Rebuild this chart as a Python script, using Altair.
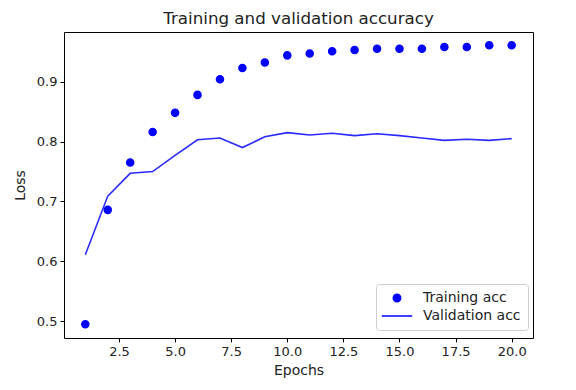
import altair as alt
import pandas as pd

epochs = list(range(1, 21))
train_acc = [0.495, 0.686, 0.765, 0.816, 0.848, 0.878, 0.904, 0.923, 0.932, 0.944,
             0.947, 0.951, 0.953, 0.955, 0.955, 0.955, 0.958, 0.958, 0.961, 0.961]
val_acc = [0.611, 0.709, 0.747, 0.750, 0.777, 0.803, 0.806, 0.790, 0.808, 0.815,
           0.811, 0.814, 0.810, 0.813, 0.810, 0.806, 0.802, 0.804, 0.802, 0.805]
series_names = ["Training acc", "Validation acc"]
x_ticks = [2.5, 5.0, 7.5, 10.0, 12.5, 15.0, 17.5, 20.0]
y_ticks = [0.5, 0.6, 0.7, 0.8, 0.9]

df = pd.DataFrame({
    "epoch": epochs * 2,
    "value": train_acc + val_acc,
    "series": [series_names[0]] * 20 + [series_names[1]] * 20,
})

FONT = "DejaVu Sans"
TXT = "#222222"
x = alt.X("epoch:Q", scale=alt.Scale(domain=[0.05, 20.95], nice=False, zero=False),
          axis=alt.Axis(values=x_ticks, format=".1f", title="Epochs"))
y = alt.Y("value:Q", scale=alt.Scale(domain=[0.472, 0.983], nice=False, zero=False),
          axis=alt.Axis(values=y_ticks, format=".1f", title="Loss"))

points = alt.Chart(df).transform_filter(
    alt.datum.series == series_names[0]
).mark_point(filled=True, color="#0000ff", stroke="#0000ff", strokeWidth=1.5,
             size=50, opacity=1).encode(
    x=x, y=y,
    shape=alt.Shape("series:N",
                    scale=alt.Scale(domain=series_names, range=["circle", "M-4.1,0L4.1,0"]),
                    legend=alt.Legend(title=None, orient="none", legendX=312, legendY=252)),
)

line = alt.Chart(df).transform_filter(
    alt.datum.series == series_names[1]
).mark_line(color="#2a2aff", strokeWidth=1.6).encode(x=x, y=y)

chart = alt.layer(points, line).properties(
    width=469, height=306,
    title=alt.TitleParams("Training and validation accuracy", fontSize=16.7, font=FONT,
                          fontWeight="normal", color=TXT, offset=4),
    autosize=alt.AutoSizeParams(type="none"),
    padding={"left": 56, "top": 24, "right": 20, "bottom": 40},
).configure_view(stroke="#000000", strokeWidth=1).configure_axis(
    grid=False, domain=False, ticks=True, tickColor="#000000", tickSize=4,
    labelFont=FONT, labelFontSize=13, labelColor=TXT,
    titleFont=FONT, titleFontSize=14, titleFontWeight="normal", titleColor=TXT,
    labelPadding=3,
).configure_axisX(titlePadding=5).configure_axisY(titlePadding=9).configure_legend(
    padding=7, strokeColor="#cccccc", fillColor="#ffffff",
    cornerRadius=3, labelFont=FONT, labelFontSize=14, labelColor=TXT,
    symbolSize=55, symbolOffset=7, rowPadding=4, labelOffset=19,
)

chart.save("out.html", embed_options={"renderer": "svg", "actions": False})
